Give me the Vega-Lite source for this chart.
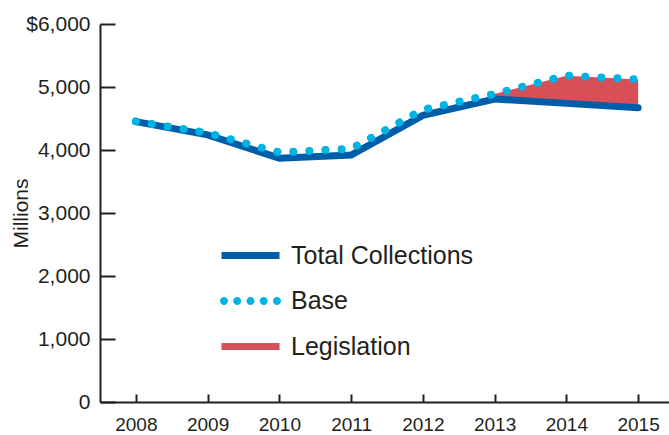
{
  "$schema": "https://vega.github.io/schema/vega-lite/v6.json",
  "width": 574,
  "height": 378,
  "autosize": {"type": "none"},
  "padding": {"left": 100, "top": 24, "right": 0, "bottom": 33},
  "background": "white",
  "config": {
    "view": {"stroke": null},
    "font": "Liberation Sans",
    "axis": {"grid": false, "domainColor": "#231F20", "domainWidth": 2, "tickColor": "#231F20", "tickWidth": 2, "labelColor": "#231F20", "titleColor": "#231F20"}
  },
  "resolve": {"axis": {"x": "independent", "y": "independent"}},
  "data": {
    "values": [
      {"year": 2008, "total": 4450, "base": 4455},
      {"year": 2009, "total": 4240, "base": 4270},
      {"year": 2010, "total": 3870, "base": 3960},
      {"year": 2011, "total": 3920, "base": 4020},
      {"year": 2012, "total": 4550, "base": 4640},
      {"year": 2013, "total": 4810, "base": 4890},
      {"year": 2014, "total": 4740, "base": 5180},
      {"year": 2015, "total": 4670, "base": 5120}
    ]
  },
  "layer": [
    {
      "transform": [{"filter": "datum.year >= 2013"}],
      "mark": {"type": "area", "opacity": 1},
      "encoding": {
        "x": {"field": "year", "type": "ordinal", "axis": null},
        "y": {"field": "total", "type": "quantitative", "scale": {"domain": [0, 6000], "nice": false}, "axis": null},
        "y2": {"field": "base"},
        "color": {
          "datum": "Legislation",
          "type": "nominal",
          "scale": {"domain": ["Total Collections", "Base", "Legislation"], "range": ["#005EA8", "#00B3E3", "#D75058"]},
          "legend": {
            "title": null,
            "orient": "none",
            "legendX": 138,
            "legendY": 219,
            "symbolSize": 400,
            "symbolStrokeWidth": 0,
            "symbolOpacity": 1,
            "labelFontSize": 25,
            "labelFont": "Liberation Sans",
            "labelColor": "#231F20",
            "labelOffset": 28,
            "labelLimit": 0,
            "rowPadding": 19.5
          }
        }
      }
    },
    {
      "mark": {"type": "line", "strokeWidth": 7, "strokeCap": "round"},
      "encoding": {
        "x": {
          "field": "year",
          "type": "ordinal",
          "axis": {
            "title": null,
            "labelAngle": 0,
            "labelFont": "Liberation Sans",
            "labelFontSize": 19,
            "ticks": false,
            "tickSize": 0,
            "labelPadding": 13
          }
        },
        "y": {
          "field": "total",
          "type": "quantitative",
          "title": "Millions",
          "scale": {"domain": [0, 6000], "nice": false},
          "axis": {
            "values": [0, 1000, 2000, 3000, 4000, 5000, 6000],
            "labelExpr": "datum.value === 6000 ? '$6,000' : format(datum.value, ',')",
            "labelFontSize": 21,
            "ticks": false,
            "tickSize": 0,
            "labelPadding": 10,
            "titleFontSize": 21,
            "titleFontWeight": "normal",
            "titlePadding": -6
          }
        },
        "color": {"datum": "Total Collections", "type": "nominal"}
      }
    },
    {
      "mark": {"type": "line", "strokeWidth": 8, "strokeCap": "round", "strokeDash": [0.1, 16]},
      "encoding": {
        "x": {
          "field": "year",
          "type": "ordinal",
          "axis": {"orient": "top", "offset": -378, "title": null, "labels": false, "domain": false, "ticks": true, "tickSize": 8}
        },
        "y": {
          "field": "base",
          "type": "quantitative",
          "axis": {"orient": "right", "offset": -574, "title": null, "labels": false, "domain": false, "ticks": true, "tickSize": 15, "values": [0, 1000, 2000, 3000, 4000, 5000, 6000]}
        },
        "color": {"datum": "Base", "type": "nominal"}
      }
    },
    {
      "transform": [{"filter": "datum.year < 0"}],
      "mark": {"type": "point", "filled": true, "opacity": 1},
      "encoding": {
        "x": {"field": "year", "type": "ordinal", "axis": null},
        "y": {"field": "total", "type": "quantitative", "axis": null},
        "color": {"datum": "Total Collections", "type": "nominal"},
        "shape": {
          "datum": "Total Collections",
          "type": "nominal",
          "scale": {
            "domain": ["Total Collections", "Base", "Legislation"],
            "range": [
              "M-2.9,-0.35H2.9V0.35H-2.9Z",
              "M-3.05,0a0.4,0.4 0 1,0 0.8,0a0.4,0.4 0 1,0 -0.8,0ZM-1.725,0a0.4,0.4 0 1,0 0.8,0a0.4,0.4 0 1,0 -0.8,0ZM-0.4,0a0.4,0.4 0 1,0 0.8,0a0.4,0.4 0 1,0 -0.8,0ZM0.925,0a0.4,0.4 0 1,0 0.8,0a0.4,0.4 0 1,0 -0.8,0ZM2.25,0a0.4,0.4 0 1,0 0.8,0a0.4,0.4 0 1,0 -0.8,0Z",
              "M-2.9,-0.35H2.9V0.35H-2.9Z"
            ]
          }
        }
      }
    }
  ]
}
